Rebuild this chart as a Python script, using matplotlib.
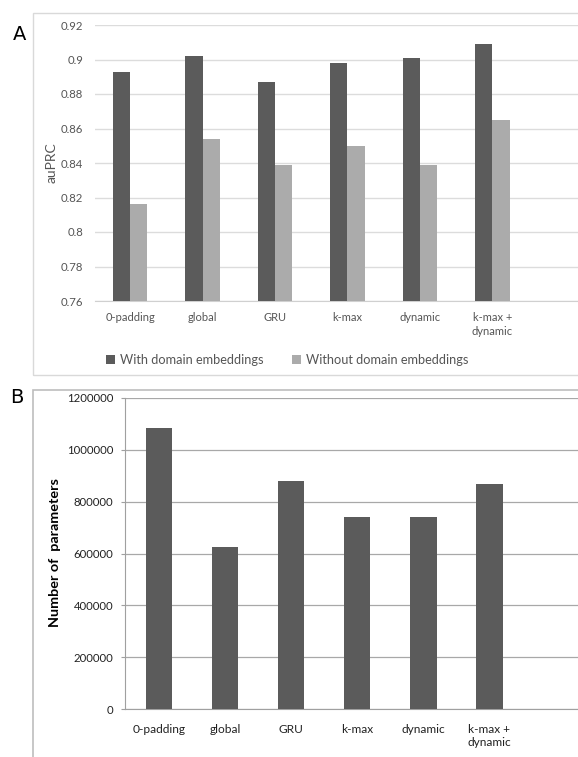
import matplotlib.pyplot as plt
import numpy as np
from matplotlib.patches import Rectangle

# Methods compared in both panels
methods = ['0-padding', 'global', 'GRU', 'k-max', 'dynamic', 'k-max +\ndynamic']

# Panel A: auPRC with / without domain embeddings
auprc_with = [0.893, 0.902, 0.887, 0.898, 0.901, 0.909]
auprc_without = [0.816, 0.854, 0.839, 0.850, 0.839, 0.865]

# Panel B: model size
n_params = [1085000, 624000, 881000, 741000, 741000, 868000]

dark = '#5b5b5b'
light = '#ababab'

plt.rcParams['font.family'] = ['Lato', 'DejaVu Sans']

W, H = 578, 757
fig = plt.figure(figsize=(W / 100, H / 100), dpi=100)


def fx(px):
    return px / W


def fy(py):
    return 1 - py / H


# panel frames
fig.patches.append(Rectangle((fx(33), fy(375)), 1, fy(13) - fy(375),
                             transform=fig.transFigure, fill=False,
                             edgecolor='#d9d9d9', lw=1.0))
fig.patches.append(Rectangle((fx(33), fy(770)), 1, fy(390) - fy(770),
                             transform=fig.transFigure, fill=False,
                             edgecolor='#bdbdbd', lw=1.2))

x = np.arange(len(methods))

# ---- Panel A ----
axA = fig.add_axes([fx(95), fy(301), 1 - fx(95), fy(25) - fy(301)])
bw = 0.24
axA.bar(x - bw / 2, auprc_with, bw, color=dark, label='With domain embeddings', zorder=3)
axA.bar(x + bw / 2, auprc_without, bw, color=light, label='Without domain embeddings', zorder=3)
axA.set_ylim(0.76, 0.92)
axA.set_yticks(np.arange(0.76, 0.921, 0.02))
axA.set_yticklabels(['0.76', '0.78', '0.8', '0.82', '0.84', '0.86', '0.88', '0.9', '0.92'])
axA.set_xlim(-0.483, 6.18)
axA.set_xticks(x)
axA.set_xticklabels(methods, fontsize=8, color='#555555', linespacing=1.3)
axA.tick_params(axis='y', labelsize=8.2, colors='#555555', length=0, pad=8.6)
axA.tick_params(axis='x', length=0, pad=8)
axA.grid(axis='y', color='#dcdcdc', lw=1.0, zorder=0)
for s in ['top', 'right', 'left']:
    axA.spines[s].set_visible(False)
axA.spines['bottom'].set_color('#d0d0d0')
fig.text(fx(52), fy(163), 'auPRC', rotation=90, fontsize=10, color='#555555',
         ha='center', va='center')
fig.legend(loc='center', bbox_to_anchor=(fx(287), fy(360)), ncol=2, frameon=False,
           fontsize=9.2, handlelength=0.7, handleheight=0.7, handletextpad=0.4,
           columnspacing=2.2, labelcolor='#555555')
fig.text(fx(20), fy(35), 'A', fontsize=14, ha='center', va='center', family='DejaVu Sans')

# ---- Panel B ----
axB = fig.add_axes([fx(125), fy(709), 1 - fx(125), fy(398) - fy(709)])
axB.bar(x, n_params, 0.4, color=dark, zorder=3)
axB.set_ylim(0, 1200000)
yt = np.arange(0, 1200001, 200000)
axB.set_yticks(yt)
axB.set_yticklabels([str(v) for v in yt])
axB.set_xlim(-0.514, 6.34)
axB.set_xticks(x)
axB.set_xticklabels(methods, fontsize=8.6, color='#222222', linespacing=1.15)
axB.tick_params(axis='y', labelsize=8.2, colors='#222222', length=3, width=0.8,
                color='#a0a0a0', pad=5.5)
axB.tick_params(axis='x', length=0, pad=11)
axB.grid(axis='y', color='#a8a8a8', lw=0.9, zorder=0)
for s in ['top', 'right']:
    axB.spines[s].set_visible(False)
axB.spines['left'].set_color('#a0a0a0')
axB.spines['bottom'].set_color('#a0a0a0')
fig.text(fx(55), fy(553), 'Number of  parameters', rotation=90, fontsize=10.4,
         fontweight='bold', ha='center', va='center')
fig.text(fx(17), fy(398), 'B', fontsize=14, ha='center', va='center', family='DejaVu Sans')

fig.savefig('out.png', dpi=100)
